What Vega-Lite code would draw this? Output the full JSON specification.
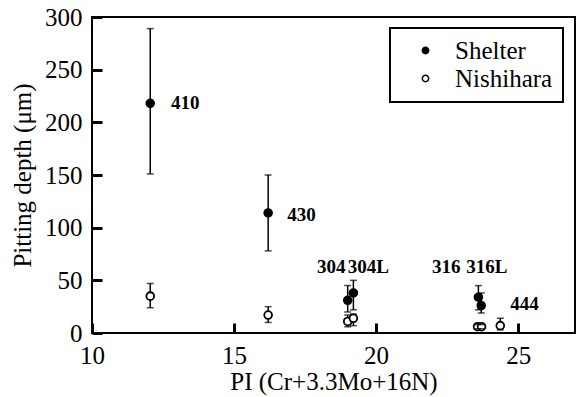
{
  "$schema": "https://vega.github.io/schema/vega-lite/v6.json",
  "width": 483,
  "height": 316,
  "autosize": {"type": "none"},
  "padding": {"left": 92, "top": 17, "right": 2, "bottom": 64},
  "config": {
    "font": "Liberation Serif",
    "view": {"stroke": "black", "strokeWidth": 2},
    "axis": {"domain": false, "grid": false, "zindex": 1,
      "labelColor": "black", "titleColor": "black", "labelFlush": false, "labelOverlap": false},
    "legend": {"strokeColor": "black", "strokeWidth": 2, "fillColor": "white", "zindex": 2}
  },
  "datasets": {
    "pits": [
      {"series": "Shelter", "steel": "410", "PI": 12.05, "depth": 218, "lo": 151, "hi": 289},
      {"series": "Shelter", "steel": "430", "PI": 16.2, "depth": 114, "lo": 78, "hi": 150},
      {"series": "Shelter", "steel": "304", "PI": 19.0, "depth": 31, "lo": 20, "hi": 45},
      {"series": "Shelter", "steel": "304L", "PI": 19.2, "depth": 38, "lo": 22, "hi": 50},
      {"series": "Shelter", "steel": "316", "PI": 23.6, "depth": 34, "lo": 22, "hi": 45},
      {"series": "Shelter", "steel": "316L", "PI": 23.7, "depth": 26, "lo": 19, "hi": 38},
      {"series": "Nishihara", "steel": "410", "PI": 12.05, "depth": 35, "lo": 24, "hi": 47},
      {"series": "Nishihara", "steel": "430", "PI": 16.2, "depth": 17, "lo": 10, "hi": 25},
      {"series": "Nishihara", "steel": "304", "PI": 19.0, "depth": 11, "lo": 6, "hi": 17},
      {"series": "Nishihara", "steel": "304L", "PI": 19.2, "depth": 14, "lo": 7, "hi": 18},
      {"series": "Nishihara", "steel": "316", "PI": 23.57, "depth": 6, "lo": 4, "hi": 8},
      {"series": "Nishihara", "steel": "316L", "PI": 23.71, "depth": 6, "lo": 4, "hi": 8},
      {"series": "Nishihara", "steel": "444", "PI": 24.37, "depth": 7, "lo": 3, "hi": 14}
    ],
    "labels": [
      {"label": "410", "x": 12.78, "y": 218},
      {"label": "430", "x": 16.87, "y": 112},
      {"label": "304", "x": 17.92, "y": 63},
      {"label": "304L", "x": 19.0, "y": 63},
      {"label": "316", "x": 21.97, "y": 63},
      {"label": "316L", "x": 23.17, "y": 63},
      {"label": "444", "x": 24.72, "y": 27.5}
    ]
  },
  "data": {"name": "pits"},
  "resolve": {"axis": {"x": "independent", "y": "independent"}},
  "layer": [
    {
      "mark": {"type": "rule", "color": "black", "strokeWidth": 1.5},
      "encoding": {
        "x": {"field": "PI", "type": "quantitative",
          "scale": {"domain": [10, 27], "nice": false, "zero": false},
          "axis": {"orient": "bottom", "values": [10, 15, 20, 25], "ticks": true, "tickColor": "black", "tickWidth": 3, "tickSize": -10,
            "labelFontSize": 25, "labelPadding": 20,
            "title": "PI (Cr+3.3Mo+16N)", "titleFontSize": 25, "titleFontWeight": "normal", "titlePadding": 1}},
        "y": {"field": "lo", "type": "quantitative",
          "scale": {"domain": [0, 300], "nice": false},
          "axis": {"orient": "left", "values": [0, 50, 100, 150, 200, 250, 300], "ticks": true, "tickColor": "black", "tickWidth": 3, "tickSize": -10,
            "labelFontSize": 25, "labelPadding": 20,
            "title": "Pitting depth (μm)", "titleFontSize": 25, "titleFontWeight": "normal", "titlePadding": 9}},
        "y2": {"field": "hi"}
      }
    },
    {
      "mark": {"type": "point", "shape": "circle", "filled": true, "stroke": "black", "strokeWidth": 1.8, "opacity": 1, "size": 60},
      "encoding": {
        "x": {"field": "PI", "type": "quantitative", "axis": null},
        "y": {"field": "depth", "type": "quantitative", "axis": null},
        "fill": {"field": "series", "type": "nominal",
          "scale": {"domain": ["Shelter", "Nishihara"], "range": ["black", "white"]},
          "legend": {"orient": "none", "legendX": 298, "legendY": 11, "title": null, "padding": 10,
            "labelFontSize": 25, "labelColor": "black", "symbolSize": 40, "symbolStrokeColor": "black", "symbolStrokeWidth": 1.5,
            "symbolOffset": 13, "labelOffset": 17, "rowPadding": 2}}
      }
    },
    {
      "mark": {"type": "tick", "orient": "horizontal", "color": "black", "size": 7, "thickness": 1.5},
      "encoding": {
        "x": {"field": "PI", "type": "quantitative", "axis": null},
        "y": {"field": "lo", "type": "quantitative", "axis": null}
      }
    },
    {
      "mark": {"type": "tick", "orient": "horizontal", "color": "black", "size": 7, "thickness": 1.5},
      "encoding": {
        "x": {"field": "PI", "type": "quantitative", "axis": null},
        "y": {"field": "hi", "type": "quantitative", "axis": null}
      }
    },
    {
      "data": {"name": "labels"},
      "mark": {"type": "text", "align": "left", "baseline": "middle", "fontWeight": "bold", "fontSize": 19, "color": "black"},
      "encoding": {
        "x": {"field": "x", "type": "quantitative", "axis": null},
        "y": {"field": "y", "type": "quantitative", "axis": null},
        "text": {"field": "label"}
      }
    }
  ]
}
